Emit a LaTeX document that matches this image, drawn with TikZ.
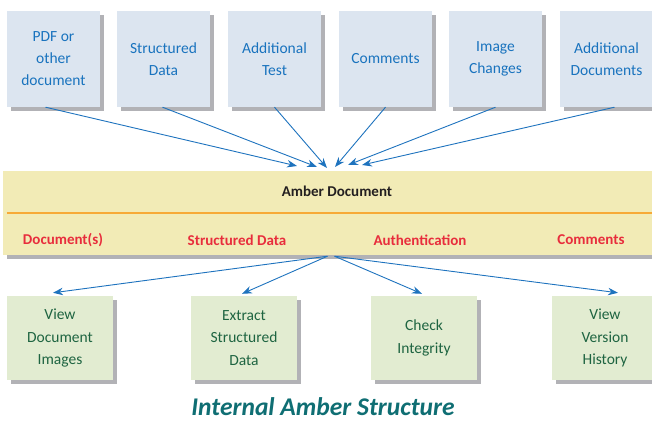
\documentclass[tikz,border=0pt]{standalone}
\usepackage{fontspec}
\setmainfont{Carlito}
\usetikzlibrary{shadows,arrows.meta,calc}
\definecolor{topfill}{RGB}{220,229,240}
\definecolor{toptext}{RGB}{25,115,190}
\definecolor{botfill}{RGB}{226,236,209}
\definecolor{bottext}{RGB}{30,100,65}
\definecolor{bandfill}{RGB}{242,235,182}
\definecolor{bandline}{RGB}{247,170,55}
\definecolor{redtext}{RGB}{232,45,60}
\definecolor{darktext}{RGB}{35,31,32}
\definecolor{arrowblue}{RGB}{30,115,190}
\definecolor{shadowgray}{RGB}{178,178,182}
\definecolor{titleteal}{RGB}{15,110,115}
\begin{document}
\begin{tikzpicture}[x=1pt,y=-1pt,
  boxshadow/.style={drop shadow={shadow xshift=4pt,shadow yshift=-4pt,fill=shadowgray,opacity=1}},
  topbox/.style={boxshadow,fill=topfill,minimum width=93pt,minimum height=96pt,inner sep=0pt,align=center,text=toptext,font=\fontsize{15.5}{22}\selectfont},
  botbox/.style={boxshadow,fill=botfill,minimum width=106pt,minimum height=84pt,inner sep=0pt,align=center,text=bottext,font=\fontsize{15.5}{22.5}\selectfont},
  redlabel/.style={text=redtext,font=\fontsize{15}{18}\selectfont\bfseries,inner sep=0pt},
  arr/.style={draw=arrowblue,line width=0.9pt,-{Stealth[length=10pt,width=7.5pt]}}]
\useasboundingbox (0,0) rectangle (652,422);
% top boxes
\node[topbox] (t1) at (53.5,59) {PDF or\\other\\document};
\node[topbox] (t2) at (163.5,59) {Structured\\Data};
\node[topbox] (t3) at (274.5,59) {Additional\\Test};
\node[topbox] (t4) at (385.5,59) {Comments};
\node[topbox] (t5) at (495.5,59) {Image\\Changes};
\node[topbox] (t6) at (606.5,59) {Additional\\Documents};
% band
\node[boxshadow,fill=bandfill,minimum width=657pt,minimum height=84pt,inner sep=0pt] (band) at (331.5,213) {};
\draw[bandline,line width=2pt] ($(band.west)+(4,0)$) -- (band.east);
\node[text=darktext,font=\fontsize{15}{18}\selectfont\bfseries,inner sep=0pt] (amber) at (337,191) {Amber Document};
\node[redlabel] (l1) at (63,240) {Document(s)};
\node[redlabel] (l2) at (237,240) {Structured Data};
\node[redlabel] (l3) at (420,240) {Authentication};
\node[redlabel] (l4) at (591,240) {Comments};
% bottom boxes
\node[botbox] (b1) at (60,338) {View\\Document\\Images};
\node[botbox] (b2) at (244,338) {Extract\\Structured\\Data};
\node[botbox] (b3) at (424,338) {Check\\Integrity};
\node[botbox] (b4) at (605,338) {View\\Version\\History};
% title
\node[text=titleteal,font=\fontsize{25.5}{30}\selectfont\bfseries\itshape,inner sep=0pt,anchor=base] (title) at (323,415) {Internal Amber Structure};
% incoming arrows
\coordinate (in1) at (297,166);
\coordinate (in2) at (317,167);
\coordinate (in3) at (327,168);
\coordinate (in4) at (335,167);
\coordinate (in5) at (348,165);
\coordinate (in6) at (362,165);
\draw[arr] ($(t1.south)+(-8,0)$) -- (in1);
\draw[arr] ($(t2.south)+(-1,0)$) -- (in2);
\draw[arr] (t3.south) -- (in3);
\draw[arr] (t4.south) -- (in4);
\draw[arr] (t5.south) -- (in5);
\draw[arr] ($(t6.south)+(8,0)$) -- (in6);
% outgoing arrows
\coordinate (outL) at ($(band.south)+(-4,1)$);
\coordinate (outR) at ($(band.south)+(3,1)$);
\draw[arr] (outL) -- ($(b1.north)+(-7,-3)$);
\draw[arr] (outL) -- ($(b2.north)+(-2,-2)$);
\draw[arr] (outR) -- ($(b3.north)+(-2,-2)$);
\draw[arr] (outR) -- ($(b4.north)+(13,-3)$);
\end{tikzpicture}
\end{document}
